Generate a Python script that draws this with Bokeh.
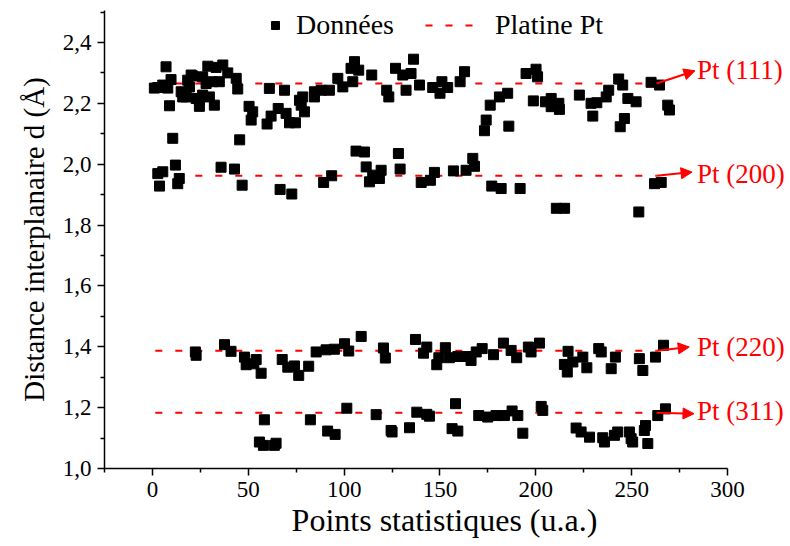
from bokeh.plotting import figure
from bokeh.models import (ColumnDataSource, Range1d, FixedTicker, Legend, LegendItem,
                          Arrow, NormalHead, Label)
from bokeh.embed import file_html
from bokeh.resources import INLINE

# ---- data ----
x_111 = [1.0, 2.8, 5.4, 7.1, 8.0, 9.7, 8.9, 10.6, 15.0, 15.8, 17.6, 18.4, 19.3, 20.2, 21.0, 22.8,
         24.5, 24.5, 26.2, 26.2, 28.0, 28.9, 29.7, 31.3, 32.3, 33.2, 34.9, 36.7, 39.3, 43.7, 44.5,
         45.5, 50.4, 52.3, 51.5, 59.8, 61.9, 61.0, 65.6, 68.9, 69.7, 71.5, 74.6, 76.7, 77.6, 78.4,
         79.3, 84.5, 84.5, 88.0, 92.3, 96.7,
         99.3, 104.5, 103.6, 105.4, 107.6, 114.4, 122.2, 123.3, 126.8, 130.6, 132.3, 134.9, 136.2,
         139.3, 146.2, 150.0, 151.0, 154.0, 160.5, 162.8,
         173.2, 174.1, 176.2, 181.0, 185.3, 185.9, 194.9, 200.1, 200.9, 198.7, 205.0, 208.0, 208.0,
         212.0, 212.3, 222.7, 228.8, 231.8, 229.7, 236.7, 238.0, 243.2, 244.0, 245.3, 246.2, 248.0,
         252.3, 260.1, 264.5, 268.8, 269.7]
y_111 = [2.250, 2.252, 2.260, 2.320, 2.250, 2.278, 2.192, 2.085, 2.238, 2.221, 2.221, 2.276, 2.254,
         2.293, 2.290, 2.216, 2.190, 2.210, 2.287, 2.227, 2.265, 2.322, 2.221, 2.271, 2.194, 2.318,
         2.271, 2.326, 2.300, 2.282, 2.247, 2.080, 2.190, 2.172, 2.145, 2.132, 2.158, 2.249, 2.183,
         2.243, 2.167, 2.136, 2.136, 2.210, 2.194, 2.221, 2.172, 2.238, 2.221, 2.243, 2.243, 2.282,
         2.254, 2.271, 2.315, 2.337, 2.309, 2.293, 2.243, 2.221, 2.315, 2.293, 2.243, 2.298, 2.345,
         2.260, 2.252, 2.233, 2.271, 2.252, 2.271, 2.304,
         2.110, 2.145, 2.194, 2.221, 2.233, 2.125, 2.298, 2.312, 2.287, 2.208, 2.205, 2.216, 2.189,
         2.200, 2.180, 2.227, 2.200, 2.202, 2.158, 2.221, 2.243, 2.280, 2.123, 2.260, 2.150, 2.216,
         2.205, 2.269, 2.260, 2.194, 2.178]

x_200 = [2.8, 5.4, 12.0, 3.7, 14.0, 13.2, 35.8, 42.8, 46.8, 66.6, 72.7, 89.3, 93.5, 106.2, 110.6,
         111.5, 113.2, 114.9, 118.4, 119.3, 128.3, 129.2, 140.2, 145.0, 147.1, 157.0, 163.6, 167.1,
         168.0, 177.0, 181.9, 191.8, 210.7, 215.0, 253.7, 261.9, 265.4]
y_200 = [1.969, 1.975, 1.997, 1.928, 1.953, 1.936, 1.990, 1.984, 1.931, 1.917, 1.902, 1.940, 1.962,
         2.043, 2.040, 1.991, 1.942, 1.964, 1.953, 1.980, 2.035, 1.984, 1.940, 1.947, 1.973, 1.978,
         1.980, 2.019, 1.993, 1.928, 1.920, 1.920, 1.855, 1.855, 1.843, 1.936, 1.940]

x_220 = [22.4, 22.8, 37.6, 41.0, 48.0, 48.9, 54.1, 52.9, 56.7, 67.7, 70.6, 74.1, 76.3, 81.5, 85.4,
         90.6, 94.9, 100.2, 102.4, 108.9, 120.5, 121.5, 137.2, 143.1, 141.4, 148.3, 149.4, 152.8,
         154.9, 159.3, 163.6, 166.2, 168.9, 172.0, 177.9, 183.1, 187.1, 190.0, 196.1, 197.5, 201.9,
         216.8, 214.9, 219.3, 216.4, 224.5, 226.6, 232.8, 234.1, 241.5, 239.3, 254.0, 255.8, 262.4,
         266.6]
y_220 = [1.383, 1.372, 1.407, 1.385, 1.366, 1.341, 1.358, 1.344, 1.313, 1.358, 1.333, 1.337, 1.306,
         1.336, 1.383, 1.390, 1.392, 1.410, 1.386, 1.434, 1.396, 1.363, 1.424, 1.399, 1.379, 1.341,
         1.364, 1.397, 1.364, 1.368, 1.368, 1.355, 1.383, 1.394, 1.374, 1.412, 1.388, 1.364, 1.399,
         1.383, 1.412, 1.385, 1.342, 1.350, 1.317, 1.366, 1.331, 1.394, 1.383, 1.366, 1.328, 1.361,
         1.322, 1.366, 1.405]

x_311 = [58.4, 55.8, 57.9, 63.6, 64.5, 82.4, 91.4, 95.3, 101.4, 116.7, 124.5, 125.0, 134.1, 137.9,
         143.1, 144.5, 158.1, 156.3, 159.3, 170.2, 174.9, 179.2, 183.6, 187.6, 190.6, 193.2, 202.8,
         203.6, 221.0, 223.6, 228.0, 234.9, 235.8, 241.0, 242.7, 248.8, 249.7, 250.5, 257.2, 256.6,
         258.4, 263.6, 267.6]
y_311 = [1.160, 1.087, 1.076, 1.076, 1.083, 1.160, 1.123, 1.112, 1.198, 1.177, 1.125, 1.120, 1.134,
         1.185, 1.178, 1.172, 1.213, 1.131, 1.123, 1.174, 1.169, 1.174, 1.174, 1.189, 1.174, 1.116,
         1.204, 1.191, 1.133, 1.120, 1.103, 1.101, 1.087, 1.109, 1.120, 1.120, 1.098, 1.087, 1.141,
         1.125, 1.082, 1.174, 1.196]

pt_labels = ["Pt (111)", "Pt (200)", "Pt (220)", "Pt (311)"]
pt_d = [2.265, 1.962, 1.387, 1.183]
pt_x_start = [1.5, 1.5, 1.5, 1.5]
pt_x_end = [263.0, 263.0, 263.0, 263.0]
label_x = [284.0, 284.0, 284.0, 284.0]
label_y = [2.31, 1.968, 1.40, 1.19]
arrow_tip_x = [283.0, 281.5, 280.0, 282.5]
arrow_tip_y = [2.307, 1.974, 1.399, 1.18]

x_ticks = [0, 50, 100, 150, 200, 250, 300]
x_minor = [-25, 25, 75, 125, 175, 225, 275]
y_ticks = [1.0, 1.2, 1.4, 1.6, 1.8, 2.0, 2.2, 2.4]
y_tick_labels = ["1,0", "1,2", "1,4", "1,6", "1,8", "2,0", "2,2", "2,4"]
y_minor = [1.1, 1.3, 1.5, 1.7, 1.9, 2.1, 2.3, 2.5]

FONT = "Liberation Serif"

p = figure(width=786, height=540, output_backend="svg", toolbar_location=None,
           x_range=Range1d(-25, 329.7), y_range=Range1d(1.0, 2.505),
           min_border_left=104, min_border_right=2, min_border_top=10, min_border_bottom=72)
p.outline_line_color = None
p.xgrid.visible = False
p.ygrid.visible = False
p.background_fill_color = "white"

# dashed reference lines
line_src = ColumnDataSource(dict(x0=pt_x_start, x1=pt_x_end, y=pt_d))
seg = p.segment(x0="x0", y0="y", x1="x1", y1="y", source=line_src,
                line_color="red", line_width=2, line_dash="7 13")

# data
xs = x_111 + x_200 + x_220 + x_311
ys = y_111 + y_200 + y_220 + y_311
pts = p.scatter(xs, ys, marker="square", size=10, fill_color="black", line_color="black")

# arrows and labels
for i in range(len(pt_d)):
    p.add_layout(Arrow(end=NormalHead(size=11, fill_color="red", line_color="red", line_width=1),
                       x_start=pt_x_end[i], y_start=pt_d[i], x_end=arrow_tip_x[i], y_end=arrow_tip_y[i],
                       line_color="red", line_width=2))
    p.add_layout(Label(x=label_x[i], y=label_y[i], text=pt_labels[i], text_color="red",
                       text_font=FONT, text_font_size="27px", text_baseline="middle",
                       text_align="left"))

# axes
for ax in (p.xaxis[0], p.yaxis[0]):
    ax.axis_line_width = 1.5
    ax.major_tick_line_width = 1.5
    ax.minor_tick_line_width = 1.5
    ax.major_tick_in = 0
    ax.major_tick_out = 7
    ax.minor_tick_in = 0
    ax.minor_tick_out = 4
    ax.major_label_text_font = FONT
    ax.major_label_text_font_size = "23px"
    ax.major_label_text_color = "black"
    ax.axis_label_text_font = FONT
    ax.axis_label_text_font_style = "normal"
    ax.axis_label_text_color = "black"

p.xaxis.bounds = (-25, 300)
p.xaxis.axis_label_text_font_size = "32px"
p.yaxis.axis_label_text_font_size = "29px"
p.xaxis.ticker = FixedTicker(ticks=x_ticks, minor_ticks=x_minor)
p.yaxis.ticker = FixedTicker(ticks=y_ticks, minor_ticks=y_minor)
p.yaxis.major_label_overrides = {t: l for t, l in zip(y_ticks, y_tick_labels)}
p.xaxis.axis_label = "Points statistiques (u.a.)"
p.yaxis.axis_label = "Distance interplanaire d (Å)"
p.xaxis.major_label_standoff = 6
p.xaxis.axis_label_standoff = 2
p.yaxis.major_label_standoff = 6
p.yaxis.axis_label_standoff = 10

# legends
def style_leg(lg):
    lg.border_line_color = None
    lg.background_fill_alpha = 0
    lg.label_text_font = FONT
    lg.label_text_font_size = "28px"
    lg.label_text_color = "black"
    lg.padding = 0
    lg.margin = 0
    lg.spacing = 0
    lg.glyph_height = 20
    lg.label_height = 20

leg1 = Legend(items=[LegendItem(label="Données", renderers=[pts])], location=(161, 427),
              orientation="horizontal", glyph_width=20, label_standoff=11)
leg2 = Legend(items=[LegendItem(label="Platine Pt", renderers=[seg])], location=(321, 427),
              orientation="horizontal", glyph_width=60, label_standoff=10)
style_leg(leg1)
style_leg(leg2)
p.add_layout(leg1, "center")
p.add_layout(leg2, "center")

open("out.html", "w").write(file_html(p, INLINE))
